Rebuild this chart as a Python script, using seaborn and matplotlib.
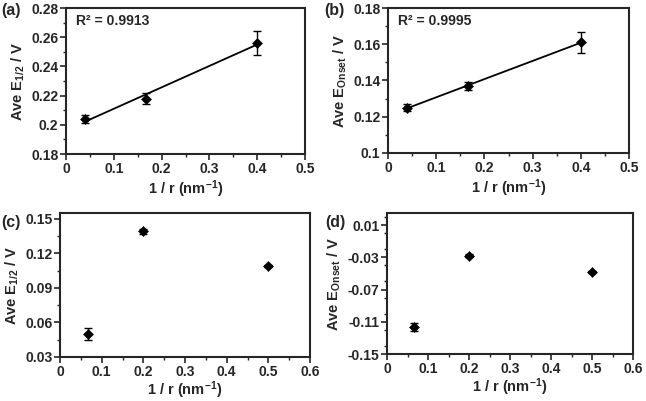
import numpy as np
import matplotlib
matplotlib.use('Agg')
import matplotlib.pyplot as plt
from matplotlib.ticker import MultipleLocator
import seaborn as sns

# data
x_top = [0.04, 0.167, 0.4]
e_half_top = [0.204, 0.218, 0.256]
e_half_top_err = [0.003, 0.004, 0.008]
e_onset_top = [0.125, 0.137, 0.161]
e_onset_top_err = [0.002, 0.002, 0.006]

x_bot = [0.0667, 0.2, 0.5]
e_half_bot = [0.050, 0.139, 0.109]
e_half_bot_err = [0.005, 0.002, 0.001]
e_onset_bot = [-0.117, -0.028, -0.048]
e_onset_bot_err = [0.005, 0.002, 0.001]

r2_labels = ['R² = 0.9913', 'R² = 0.9995']

sns.set_style('ticks')
plt.rcParams['font.family'] = ['Liberation Sans', 'DejaVu Sans']
plt.rcParams['font.weight'] = 'bold'
plt.rcParams['axes.labelweight'] = 'bold'
plt.rcParams['mathtext.fontset'] = 'custom'
plt.rcParams['mathtext.rm'] = 'Liberation Sans:bold'
plt.rcParams['mathtext.bf'] = 'Liberation Sans:bold'
plt.rcParams['mathtext.default'] = 'rm'

fig = plt.figure(figsize=(6.46, 4.01), dpi=100)

# axes boxes in pixels (left, top, right, bottom)
boxes = [(66, 8, 305, 154), (388, 8, 629, 153), (60, 213, 310, 357), (387, 213, 633, 354)]
W, H = 646, 401
axs = []
for l, t, r, b in boxes:
    axs.append(fig.add_axes([l / W, 1 - b / H, (r - l) / W, (b - t) / H]))

ylab_half = 'Ave E$_{1/2}$ / V'
ylab_onset = 'Ave E$_{Onset}$ / V'
panels = [
    (x_top, e_half_top, e_half_top_err, ylab_half, (0.18, 0.28), 0.01, (0, 0.5), True,
     [0.18, 0.2, 0.22, 0.24, 0.26, 0.28], ['0.18', '0.2', '0.22', '0.24', '0.26', '0.28']),
    (x_top, e_onset_top, e_onset_top_err, ylab_onset, (0.1, 0.18), 0.01, (0, 0.5), True,
     [0.1, 0.12, 0.14, 0.16, 0.18], ['0.1', '0.12', '0.14', '0.16', '0.18']),
    (x_bot, e_half_bot, e_half_bot_err, ylab_half, (0.03, 0.155), 0.015, (0, 0.6), False,
     [0.03, 0.06, 0.09, 0.12, 0.15], ['0.03', '0.06', '0.09', '0.12', '0.15']),
    (x_bot, e_onset_bot, e_onset_bot_err, ylab_onset, (-0.15, 0.025), 0.02, (0, 0.6), False,
     [-0.15, -0.11, -0.07, -0.03, 0.01], ['-0.15', '-0.11', '-0.07', '-0.03', '0.01']),
]

for i, (ax, p) in enumerate(zip(axs, panels)):
    x, y, err, ylab, ylim, ymin, xlim, fit, yt, ytl = p
    if fit:
        sns.regplot(x=np.array(x), y=np.array(y), ax=ax, scatter=False, ci=None,
                    truncate=True, color='black', line_kws={'lw': 1.3})
    ax.errorbar(x, y, yerr=err, fmt='none', ecolor='black', elinewidth=1, capsize=3, capthick=1)
    sns.scatterplot(x=x, y=y, ax=ax, marker='D', color='black', s=26, edgecolor='black', zorder=3)

    xt = np.arange(0, xlim[1] + 0.001, 0.1)
    ax.set_xticks(xt)
    ax.set_xticklabels(['0' if v == 0 else f'{v:.1f}' for v in xt], fontweight='bold')
    ax.set_yticks(yt)
    ax.set_yticklabels(ytl, fontweight='bold')
    ax.xaxis.set_minor_locator(MultipleLocator(0.05))
    ax.yaxis.set_minor_locator(MultipleLocator(ymin))
    ax.set_xlim(*xlim)
    ax.set_ylim(*ylim)

    ax.tick_params(which='major', direction='out', length=4, width=1.2, labelsize=10,
                   top=False, right=False, pad=1.5)
    ax.tick_params(which='minor', direction='out', length=2.5, width=1.0, top=False, right=False)
    for s in ax.spines.values():
        s.set_visible(True)
        s.set_linewidth(1.5)
    ax.set_xlabel('1 / r (nm$^{-1}$)', fontsize=10.5, labelpad=2 if fit else 0.5)
    ax.set_ylabel(ylab, fontsize=10.5, labelpad=3)
    if fit:
        ax.text(0.04, 0.91, r2_labels[i], transform=ax.transAxes, fontsize=10,
                fontweight='bold', va='center')

# panel tags
fig.text(1 / W, 1 - 10 / H, '(a)', fontsize=11.5, fontweight='bold', va='center')
fig.text(324 / W, 1 - 10 / H, '(b)', fontsize=11.5, fontweight='bold', va='center')
fig.text(1 / W, 1 - 222 / H, '(c)', fontsize=11.5, fontweight='bold', va='center')
fig.text(325 / W, 1 - 223 / H, '(d)', fontsize=11.5, fontweight='bold', va='center')

fig.savefig('out.png', dpi=100)
